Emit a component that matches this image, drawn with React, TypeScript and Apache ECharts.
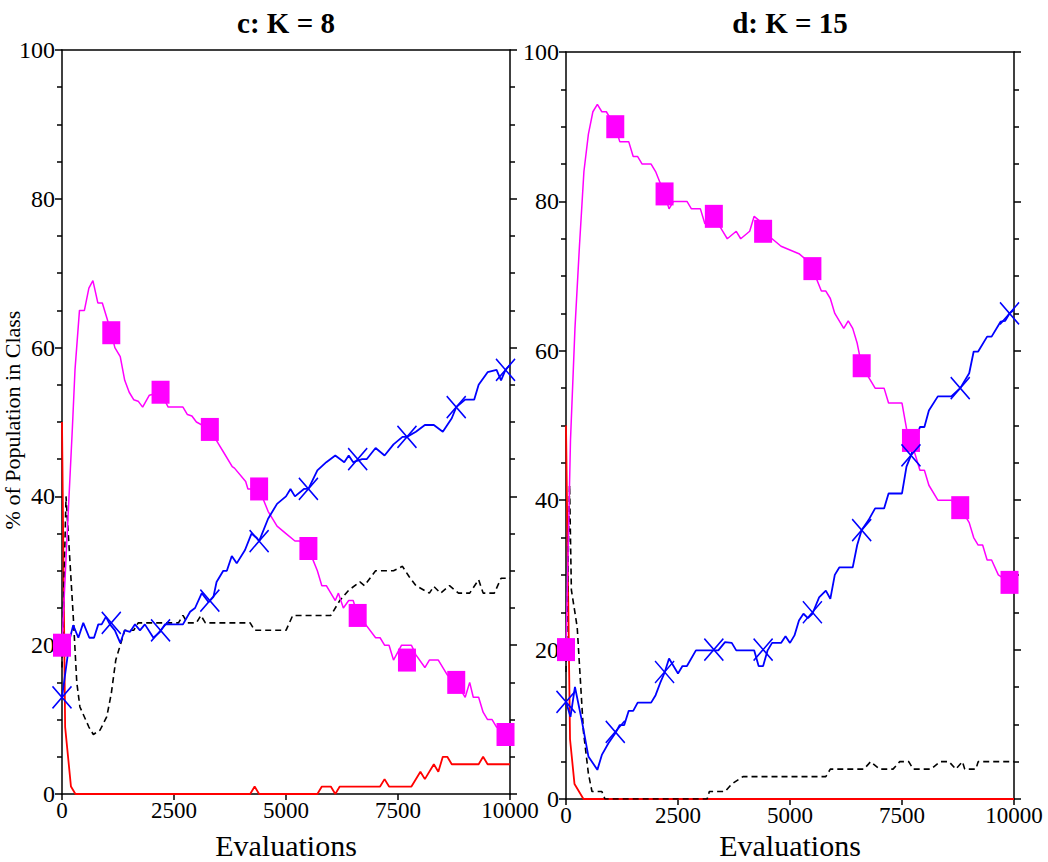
import React, { useEffect, useRef } from "react";
import * as echarts from "echarts";

// ---- Data (evaluations, % of population) ----
const markEvals = [0, 1100, 2200, 3300, 4400, 5500, 6600, 7700, 8800, 9900];
const xTicks = [0, 2500, 5000, 7500, 10000];
const panelTitles = ["c: K = 8", "d: K = 15"];

// Panel c: K = 8
const k8Red = [[0,50],[70,9],[200,1],[300,0],[4200,0],[4300,1],[4400,0],[5700,0],[5800,1],[6000,1],[6100,0],[6200,1],[7100,1],[7200,2],[7300,1],[7800,1],[8000,3],[8100,2],[8300,4],[8400,3],[8500,5],[8600,5],[8700,4],[9300,4],[9400,5],[9500,4],[10000,4]];
const k8Black = [[0,17],[90,40],[250,24],[330,15],[400,11.7],[600,9],[700,8],[850,8.6],[1000,10.4],[1100,13.5],[1200,18],[1300,20],[1400,22],[1600,22],[1700,23],[2600,23],[2700,24],[2800,23],[3000,23],[3100,24],[3200,23],[4200,23],[4300,22],[5000,22],[5150,24],[6000,24],[6200,26],[6400,27.4],[6650,28.5],[6750,28],[7000,30],[7400,30],[7600,30.6],[7750,29.2],[7900,28],[8200,27],[8300,27.9],[8450,27],[8650,28],[8850,27],[9100,27],[9300,28.8],[9400,27],[9650,27],[9800,29],[10000,29]];
const k8Magenta = [[0,20],[100,33],[230,49],[290,57],[390,65],[500,65],[600,68],[690,69],[800,66],[900,66],[1000,64],[1100,62],[1180,60],[1300,58.8],[1400,55.6],[1500,54],[1600,53],[1700,52.8],[1800,52],[1950,53.6],[2200,54],[2370,52],[2700,52],[2800,51],[2900,50.8],[3000,50],[3300,49],[3500,47],[3600,46],[3800,44],[3850,43.8],[4100,42],[4150,41],[4400,41],[4600,38],[4800,36],[5000,35],[5200,34],[5300,34],[5500,33],[5600,31.5],[5700,30],[5800,28],[5900,28],[6100,26],[6170,27],[6280,25],[6400,26],[6500,26],[6600,24],[6750,23],[7000,21],[7100,21],[7200,20],[7300,20],[7400,18],[7580,20],[7800,20],[7900,18.7],[8100,17],[8200,18],[8400,18],[8600,16],[8800,15],[9000,13],[9100,15],[9180,13],[9300,13],[9400,11],[9500,10],[9600,10],[9700,9],[9900,8],[10000,9.5]];
const k8Blue = [[0,13],[180,21],[250,22.7],[365,21],[475,23],[610,21],[715,21],[810,22.8],[885,22.8],[980,23.8],[1070,22.8],[1180,22],[1300,20.3],[1400,22],[1520,21.8],[1630,22.8],[1740,22],[1850,22.8],[2040,21],[2190,21.8],[2300,22.8],[2700,22.8],[2860,24.5],[2970,25],[3120,27],[3270,25.8],[3380,26.5],[3450,28.5],[3600,30],[3680,30],[3790,32],[3900,31],[4085,32.8],[4230,35],[4350,34.4],[4400,34],[4600,37],[4800,39],[5000,40],[5100,41],[5200,40],[5400,41],[5500,41],[5700,43.5],[5900,44.6],[6100,45.5],[6300,44.6],[6400,45.5],[6500,44.6],[6700,45],[6800,45],[7000,46.5],[7200,45.5],[7400,47],[7600,48],[7700,48],[7900,48.7],[8100,49.6],[8300,49.6],[8500,48.7],[8700,50.5],[8800,52],[9000,53],[9200,53],[9300,55],[9500,56.7],[9700,57],[9800,55.6],[9900,57],[10000,57.7]];
const k8MagentaMarks = [20, 62, 54, 49, 41, 33, 24, 18, 15, 8];
const k8BlueMarks = [13, 23, 22, 26, 34, 41, 45, 48, 52, 57];

// Panel d: K = 15
const k15Red = [[0,50],[90,8],[190,2],[390,0],[10000,0]];
const k15Black = [[0,17],[80,42],[120,28],[250,23],[310,17],[390,9],[500,3.4],[580,1],[800,1],[870,0],[3150,0],[3200,1],[3550,1],[3700,2],[3950,3],[5800,3],[5900,4],[6650,4],[6800,5],[7000,4],[7300,4],[7450,5],[7650,5],[7750,4],[8150,4],[8350,5],[8550,5],[8700,4],[8850,5],[8900,4],[9150,4],[9200,5],[10000,5]];
const k15Magenta = [[0,20],[100,48],[200,63],[300,74],[400,84],[500,89],[600,92],[700,93],[800,92],[900,92],[1000,91],[1100,90],[1200,88],[1400,88],[1500,86],[1600,86],[1700,85],[1900,85],[2000,84],[2200,81],[2300,79],[2400,80],[2700,80],[2800,79],[3000,79],[3100,77],[3300,78],[3400,77],[3500,76],[3600,75],[3800,76],[3900,75],[4100,76],[4200,78],[4300,77.5],[4400,76],[4600,75],[4800,74],[5000,73.5],[5200,73],[5400,72],[5500,71],[5700,68],[5800,68],[5900,67],[6000,65],[6200,63],[6300,64],[6400,63],[6500,61],[6600,58],[6800,56],[6900,55],[7100,55],[7200,53],[7500,53],[7600,49.6],[7700,48],[7900,44],[8000,44],[8100,42],[8300,40],[8600,40],[8800,39],[9000,37],[9100,35],[9200,34],[9300,34],[9400,32],[9500,32],[9650,30],[9900,29],[10000,28.5]];
const k15Blue = [[0,13],[100,11],[200,15],[350,10.6],[500,5.7],[700,3.9],[800,5.9],[950,7.5],[1100,8.8],[1200,9.9],[1300,9.9],[1400,11.8],[1500,11.8],[1600,12.9],[1900,12.9],[2000,13.9],[2100,15.5],[2200,16.9],[2300,18.8],[2500,16.8],[2600,17.8],[2700,17.8],[2900,19.9],[3400,19.9],[3550,21],[3700,20.9],[3800,19.9],[4200,19.9],[4300,17.8],[4400,17.8],[4500,19.9],[4600,20.9],[4800,20.9],[4900,21.8],[5000,20.9],[5100,21.9],[5200,23.9],[5300,24.8],[5400,24.2],[5500,24.8],[5650,27],[5800,27.9],[5900,26.8],[6000,30],[6100,31],[6400,31],[6500,34],[6600,36],[6750,37.3],[6900,38.9],[7100,38.9],[7200,40.9],[7500,40.9],[7600,44.5],[7700,46],[7900,49.8],[8000,49.8],[8100,52],[8300,53.9],[8600,53.9],[8800,55],[9000,57],[9100,59.9],[9200,59.9],[9400,61.9],[9500,61.9],[9700,63.9],[9800,64],[9900,65],[10000,65.5]];
const k15MagentaMarks = [20, 90, 81, 78, 76, 71, 58, 48, 39, 29];
const k15BlueMarks = [13, 9, 17, 20, 20, 25, 36, 46, 55, 65];

const FONT = "'Liberation Serif', 'Times New Roman', serif";
const MAGENTA = "#ff00ff";
const BLUE = "#0000ff";
const RED = "#ff0000";

const grids = [
  { left: 62, top: 50, width: 448, height: 744 },
  { left: 566, top: 52, width: 448, height: 747 },
];

function lineSeries(data: number[][], color: string, axis: number, width: number, dashed = false, z = 2) {
  return {
    type: "line",
    xAxisIndex: axis * 2,
    yAxisIndex: axis * 2,
    data,
    showSymbol: false,
    symbol: "none",
    lineStyle: { color, width, type: dashed ? [6, 4] : "solid" },
    z,
    silent: true,
  };
}

function markSeries(vals: number[], axis: number, kind: "square" | "cross") {
  const data = markEvals.map((e, i) => [e, vals[i]]);
  if (kind === "square") {
    return {
      type: "scatter", xAxisIndex: axis * 2, yAxisIndex: axis * 2, data,
      symbol: "rect", symbolSize: [18, 23],
      itemStyle: { color: MAGENTA, opacity: 1 }, z: 5, silent: true,
    };
  }
  return {
    type: "scatter", xAxisIndex: axis * 2, yAxisIndex: axis * 2, data,
    symbol: "path://M0,0L10,10M10,0L0,10", symbolSize: [19, 22],
    itemStyle: { color: "none", borderColor: BLUE, borderWidth: 1.6, opacity: 1 }, z: 6, silent: true,
  };
}

export default function App() {
  const ref = useRef<HTMLDivElement>(null);
  useEffect(() => {
    if (!ref.current) return;
    const chart = echarts.init(ref.current, undefined, { renderer: "svg" });
    const xAxes: any[] = [];
    const yAxes: any[] = [];
    grids.forEach((_, i) => {
      xAxes.push({
        type: "value", gridIndex: i, min: 0, max: 10000, interval: 2500, position: "bottom",
        axisLine: { show: true, lineStyle: { color: "#000", width: 1.5 } },
        axisTick: { show: true, length: 6, inside: false, lineStyle: { color: "#000", width: 1.5 } },
        axisLabel: { color: "#000", fontFamily: FONT, fontSize: 23, margin: 5,
          formatter: (v: number) => (xTicks.includes(v) ? String(v) : "") },
        splitLine: { show: false },
      });
      xAxes.push({
        type: "value", gridIndex: i, min: 0, max: 10000, position: "top",
        axisLine: { show: true, onZero: false, lineStyle: { color: "#000", width: 1.5 } },
        axisTick: { show: false }, axisLabel: { show: false }, splitLine: { show: false },
      });
      const yCommon = {
        type: "value", gridIndex: i, min: 0, max: 100, interval: 20,
        axisLine: { show: true, onZero: false, lineStyle: { color: "#000", width: 1.5 } },
        axisTick: { show: true, length: 7, lineStyle: { color: "#000", width: 1.5 } },
        minorTick: { show: true, splitNumber: 4, length: 5, lineStyle: { color: "#000", width: 1.5 } },
        splitLine: { show: false },
      };
      yAxes.push({
        ...yCommon, position: "left",
        axisLabel: { color: "#000", fontFamily: FONT, fontSize: 24, margin: 7 },
      });
      yAxes.push({ ...yCommon, position: "right", axisLabel: { show: false } });
    });

    const series: any[] = [
      lineSeries(k8Red, RED, 0, 1.8),
      lineSeries(k8Black, "#000", 0, 1.6, true),
      lineSeries(k8Magenta, MAGENTA, 0, 1.5),
      lineSeries(k8Blue, BLUE, 0, 1.8),
      markSeries(k8MagentaMarks, 0, "square"),
      markSeries(k8BlueMarks, 0, "cross"),
      lineSeries(k15Red, RED, 1, 1.8),
      lineSeries(k15Black, "#000", 1, 1.6, true),
      lineSeries(k15Magenta, MAGENTA, 1, 1.5),
      lineSeries(k15Blue, BLUE, 1, 1.8),
      markSeries(k15MagentaMarks, 1, "square"),
      markSeries(k15BlueMarks, 1, "cross"),
    ];

    const graphic: any[] = [];
    grids.forEach((g, i) => {
      const cx = g.left + g.width / 2;
      graphic.push({
        type: "text", x: cx, y: 23,
        style: { text: panelTitles[i], fill: "#000", font: `bold 29px ${FONT}`, align: "center", verticalAlign: "middle" },
      });
      graphic.push({
        type: "text", x: cx, y: 845,
        style: { text: "Evaluations", fill: "#000", font: `30px ${FONT}`, align: "center", verticalAlign: "middle" },
      });
    });
    graphic.push({
      type: "text", x: 12, y: 420, rotation: Math.PI / 2,
      style: { text: "% of Population in Class", fill: "#000", font: `22px ${FONT}`, align: "center", verticalAlign: "middle" },
    });

    chart.setOption({
      animation: false,
      backgroundColor: "#fff",
      grid: grids,
      xAxis: xAxes,
      yAxis: yAxes,
      series,
      graphic,
    });
    return () => chart.dispose();
  }, []);
  return (
    <div
      ref={ref}
      style={{ position: "absolute", left: 0, top: 0, width: 1048, height: 862 }}
    />
  );
}
